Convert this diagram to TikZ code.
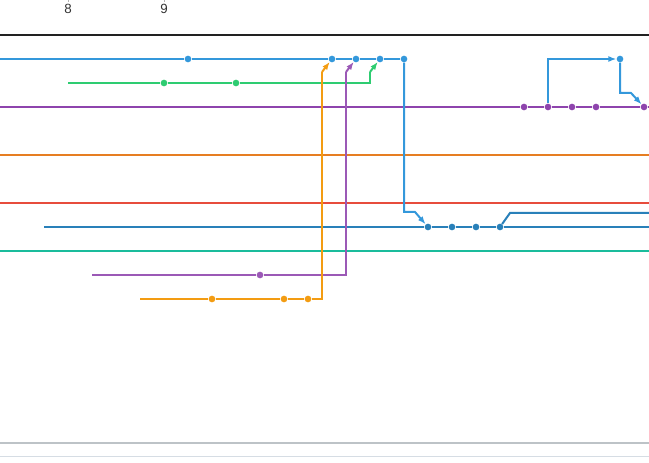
\documentclass[tikz,border=0pt]{standalone}
\usepackage{fontspec}
\setmainfont{Liberation Sans}
\usepackage{tikz}
\usetikzlibrary{
  arrows.meta,
  positioning,
  calc
}
\definecolor{gbAxis}{HTML}{222222}
\definecolor{gbBlue}{HTML}{3498DB}
\definecolor{gbGreen}{HTML}{2ECC71}
\definecolor{gbPurple}{HTML}{8E44AD}
\definecolor{gbOrange}{HTML}{E67E22}
\definecolor{gbRed}{HTML}{E74C3C}
\definecolor{gbNavy}{HTML}{2980B9}
\definecolor{gbTeal}{HTML}{1ABC9C}
\definecolor{gbLilac}{HTML}{9B59B6}
\definecolor{gbAmber}{HTML}{F39C12}
\definecolor{gbRule}{HTML}{BDC3C7}
\definecolor{gbFaint}{HTML}{D6DDE4}
\tikzset{
  lane/.style={line width=1.5pt},
  commit/.style={circle, fill, inner sep=0pt, minimum size=5pt},
  merge/.style={line width=1.5pt, -{Latex[length=6pt, width=4.5pt]}},
  ticklbl/.style={font=\fontsize{10}{12}\selectfont, text=black!80},
  tick/.style={black!30, line width=0.5pt}
}

\begin{document}
\begin{tikzpicture}[x=0.75pt, y=-0.75pt]
  \useasboundingbox (0,0) rectangle (649,463);
  % time axis
  \foreach \x/\t in {68/8,164/9}{
    \draw[tick] (\x,0) -- (\x,2);
    \node[ticklbl] (t\t) at (\x,9) {\t};
  }
  \draw[gbAxis, line width=1.5pt] (0,35) -- (649,35);
  % commits
  \foreach \n/\x in {b1/188,b2/332,b3/356,b4/380,b5/404,b6/620}{\node[commit, gbBlue] (\n) at (\x,59) {};}
  \foreach \n/\x in {g1/164,g2/236}{\node[commit, gbGreen] (\n) at (\x,83) {};}
  \foreach \n/\x in {p1/524,p2/548,p3/572,p4/596,p5/644}{\node[commit, gbPurple] (\n) at (\x,107) {};}
  \foreach \n/\x in {d1/428,d2/452,d3/476,d4/500}{\node[commit, gbNavy] (\n) at (\x,227) {};}
  \node[commit, gbLilac] (q1) at (260,275) {};
  \foreach \n/\x in {o1/212,o2/284,o3/308}{\node[commit, gbAmber] (\n) at (\x,299) {};}
  % lane ends
  \coordinate (bS) at (0,59);
  \coordinate (gS) at (68,83);
  \coordinate (pS) at (0,107);
  \coordinate (pE) at (649,107);
  \coordinate (dS) at (44,227);
  \coordinate (dE) at (649,227);
  \coordinate (qS) at (92,275);
  \coordinate (oS) at (140,299);
  % lanes
  \draw[lane, gbBlue] (bS) -- (b1) -- (b2) -- (b3) -- (b4) -- (b5);
  \draw[lane, gbGreen] (gS) -- (g1) -- (g2) -- (370,83) -- (370,72);
  \draw[lane, gbPurple] (pS) -- (p1) -- (p2) -- (p3) -- (p4) -- (p5) -- (pE);
  \draw[lane, gbOrange] (0,155) -- (649,155);
  \draw[lane, gbRed] (0,203) -- (649,203);
  \draw[lane, gbNavy] (dS) -- (d1) -- (d2) -- (d3) -- (d4) -- (dE);
  \draw[lane, gbTeal] (0,251) -- (649,251);
  \draw[lane, gbLilac] (qS) -- (q1) -- (346,275) -- (346,72);
  \draw[lane, gbAmber] (oS) -- (o1) -- (o2) -- (o3) -- (322,299) -- (322,72);
  % merges
  \draw[merge, gbAmber] (322,72) -- (b2);
  \draw[merge, gbLilac] (346,72) -- (b3);
  \draw[merge, gbGreen] (370,72) -- (b4);
  \draw[merge, gbBlue] (b5) -- (404,212) -- (415,212) -- (d1);
  \draw[merge, gbBlue] (p2) |- (b6);
  \draw[merge, gbBlue] (b6) -- (620,93) -- (631,93) -- (p5);
  \draw[lane, gbNavy] (d4) -- (510,213) -- (649,213);
  % footer rules
  \draw[gbRule, line width=1.5pt] (0,443) -- (649,443);
  \draw[gbFaint, line width=0.75pt] (0,456) -- (649,456);
\end{tikzpicture}
\end{document}
